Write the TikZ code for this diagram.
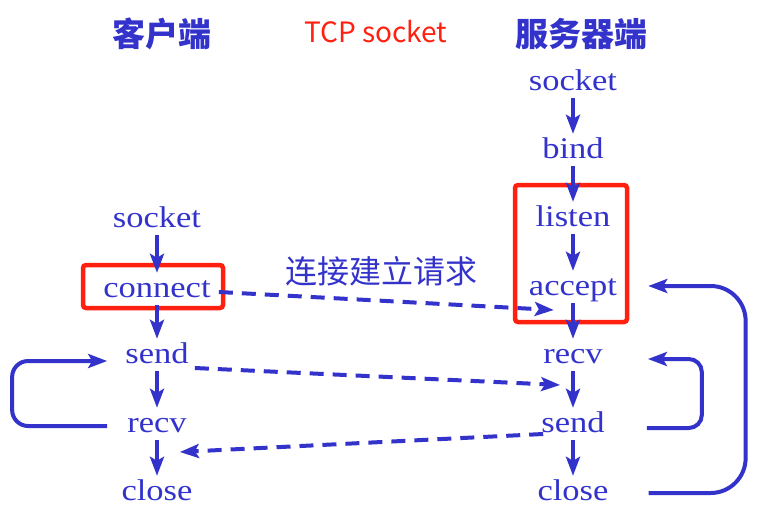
\documentclass[tikz,border=0pt]{standalone}
\usepackage{fontspec}
\setmainfont{Liberation Serif}[FakeStretch=1.15]
\newfontfamily\cjk{Noto Sans CJK SC}
\usetikzlibrary{arrows.meta,calc}
\definecolor{myblue}{RGB}{51,51,204}
\definecolor{myred}{RGB}{255,32,16}
\tikzset{
  fn/.style={font=\fontsize{30}{36}\selectfont, text=myblue, inner sep=0pt,
             text height=24pt, text depth=8pt, anchor=base},
  hdr/.style={font=\cjk\bfseries\fontsize{33}{40}\selectfont, text=myblue,
              inner sep=0pt, anchor=base},
  tcp/.style={font=\cjk\fontsize{28}{34}\selectfont, text=myred,
              inner sep=0pt, anchor=base},
  reqlbl/.style={font=\cjk\fontsize{32}{40}\selectfont, text=myblue,
                 inner sep=0pt, anchor=base},
  flow/.style={draw=myblue, line width=4pt,
               -{Stealth[length=19pt,width=14pt,inset=4pt]}},
  dflow/.style={flow, dash pattern=on 14pt off 9pt},
  back/.style={flow},
  redbox/.style={draw=myred, line width=4.5pt, rounded corners=3pt, inner sep=0pt}
}
\begin{document}
\begin{tikzpicture}[x=1pt,y=-1pt]
\useasboundingbox (0,0) rectangle (757,522);

% red frames
\node[redbox, minimum width=140pt, minimum height=43pt] (cbox) at (153,286.5) {};
\node[redbox, minimum width=112pt, minimum height=137pt] (sbox) at (571,253.5) {};

% headers
\node[hdr] (h1) at (162,46) {客户端};
\node[tcp] (h2) at (376,42) {TCP socket};
\node[hdr] (h3) at (581,46) {服务器端};

% client column
\node[fn] (cs)  at (157,227) {socket};
\node[fn] (cc)  at (157,297) {connect};
\node[fn] (csd) at (157,363) {send};
\node[fn] (crv) at (157,432) {recv};
\node[fn] (ccl) at (157,500) {close};

% server column
\node[fn] (ss)  at (573,90)  {socket};
\node[fn] (sb)  at (573,158) {bind};
\node[fn] (sl)  at (573,226) {listen};
\node[fn] (sa)  at (573,295) {accept};
\node[fn] (sr)  at (573,363) {recv};
\node[fn] (ssd) at (573,432) {send};
\node[fn] (scl) at (573,500) {close};

% label
\node[reqlbl] (req) at (381,283) {连接建立请求};

% vertical flows
\draw[flow] (cs.south) -- (cc.north);
\draw[flow] (cc.south) -- (csd.north);
\draw[flow] (csd.south) -- (crv.north);
\draw[flow] (crv.south) -- (ccl.north);

\draw[flow] (ss.south) -- (sb.north);
\draw[flow] (sb.south) -- (sl.north);
\draw[flow] (sl.south) -- (sa.north);
\draw[flow] (sa.south) -- (sr.north);
\draw[flow] (sr.south) -- (ssd.north);
\draw[flow] (ssd.south) -- (scl.north);

% dashed messages
\draw[dflow] ($(cc.base east)+(8,-5)$) -- ($(sa.base west)+(25,15)$);
\draw[dflow] ($(csd.base east)+(6,5)$) -- ($(sr.base west)+(17,22)$);
\draw[dflow] ($(ssd.base west)+(2,2)$) -- ($(crv.base east)+(-7,20)$);

% loops
\draw[back, rounded corners=16pt] ($(crv.base west)+(-20,-6)$) -- ++(-95,0)
      |- ($(csd.base west)+(-18,-2)$);
\draw[back, rounded corners=13pt] ($(ssd.base east)+(42,-4)$) -- ++(55,0)
      |- ($(sr.base east)+(45,-4)$);
\draw[back, rounded corners=35pt] ($(scl.base east)+(40,-7)$) -- ++(97,0)
      |- ($(sa.base east)+(31,-9)$);
\end{tikzpicture}
\end{document}
